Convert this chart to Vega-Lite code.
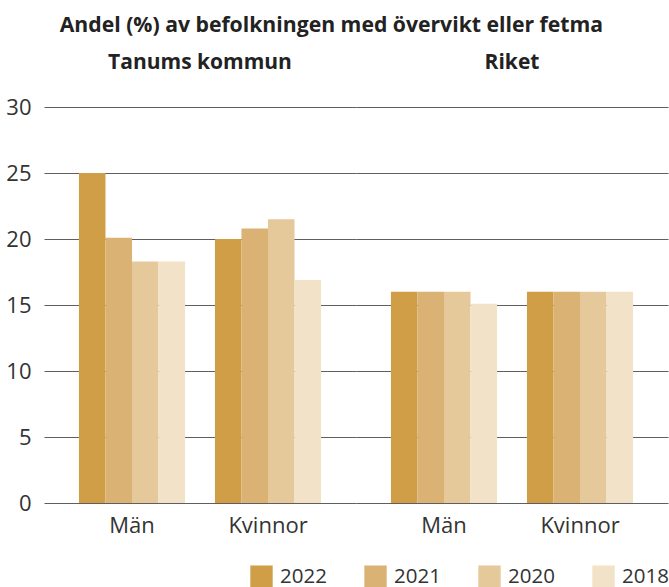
{
  "$schema": "https://vega.github.io/schema/vega-lite/v6.json",
  "padding": {"left": 5, "top": 14, "right": 0, "bottom": 0},
  "title": {"text": "Andel (%) av befolkningen med övervikt eller fetma", "fontSize": 21.2, "font": "Open Sans", "fontWeight": "bold", "color": "#222222", "anchor": "middle", "offset": 16, "dx": -6},
  "data": {"values": [
    {"region": "Tanums kommun", "sex": "Män", "year": "2022", "value": 25.0},
    {"region": "Tanums kommun", "sex": "Män", "year": "2021", "value": 20.1},
    {"region": "Tanums kommun", "sex": "Män", "year": "2020", "value": 18.3},
    {"region": "Tanums kommun", "sex": "Män", "year": "2018", "value": 18.3},
    {"region": "Tanums kommun", "sex": "Kvinnor", "year": "2022", "value": 20.0},
    {"region": "Tanums kommun", "sex": "Kvinnor", "year": "2021", "value": 20.8},
    {"region": "Tanums kommun", "sex": "Kvinnor", "year": "2020", "value": 21.5},
    {"region": "Tanums kommun", "sex": "Kvinnor", "year": "2018", "value": 16.9},
    {"region": "Riket", "sex": "Män", "year": "2022", "value": 16.0},
    {"region": "Riket", "sex": "Män", "year": "2021", "value": 16.0},
    {"region": "Riket", "sex": "Män", "year": "2020", "value": 16.0},
    {"region": "Riket", "sex": "Män", "year": "2018", "value": 15.1},
    {"region": "Riket", "sex": "Kvinnor", "year": "2022", "value": 16.0},
    {"region": "Riket", "sex": "Kvinnor", "year": "2021", "value": 16.0},
    {"region": "Riket", "sex": "Kvinnor", "year": "2020", "value": 16.0},
    {"region": "Riket", "sex": "Kvinnor", "year": "2018", "value": 16.0}
  ]},
  "facet": {"column": {"field": "region", "type": "nominal", "sort": ["Tanums kommun", "Riket"], "header": {"title": null, "labelFontSize": 21, "labelFontWeight": "bold", "labelFont": "Open Sans", "labelColor": "#222222", "labelPadding": 34}}},
  "spacing": 0,
  "spec": {
    "width": 312,
    "height": 396,
    "mark": {"type": "bar"},
    "encoding": {
      "x": {"field": "sex", "type": "nominal", "sort": ["Män", "Kvinnor"], "scale": {"paddingInner": 0.22, "paddingOuter": 0.257}, "axis": {"title": null, "labelAngle": 0, "domain": false, "ticks": false, "labelFontSize": 22, "labelPadding": 12}},
      "xOffset": {"field": "year", "type": "nominal", "sort": ["2022", "2021", "2020", "2018"], "scale": {"paddingInner": 0, "paddingOuter": 0}},
      "y": {"field": "value", "type": "quantitative", "scale": {"domain": [0, 30]}, "axis": {"title": null, "values": [0, 5, 10, 15, 20, 25, 30], "domain": false, "ticks": false, "gridColor": "#5f5f5f", "gridWidth": 1.2, "gridOpacity": 1, "labelFontSize": 22, "labelPadding": 13}},
      "color": {"field": "year", "type": "nominal", "scale": {"domain": ["2022", "2021", "2020", "2018"], "range": ["#CF9E47", "#DAB374", "#E5C99B", "#F2E2C8"]}, "legend": {"title": null, "orient": "none", "direction": "horizontal", "legendX": 206, "legendY": 458, "symbolType": "square", "symbolSize": 500, "symbolStrokeWidth": 0, "symbolOpacity": 1, "labelFontSize": 20.5, "labelFont": "Open Sans", "labelColor": "#333333", "labelOffset": 7, "columnPadding": 37}}
    }
  },
  "config": {"view": {"stroke": null}, "font": "Open Sans", "axis": {"labelColor": "#333333", "labelFont": "Open Sans"}}
}
